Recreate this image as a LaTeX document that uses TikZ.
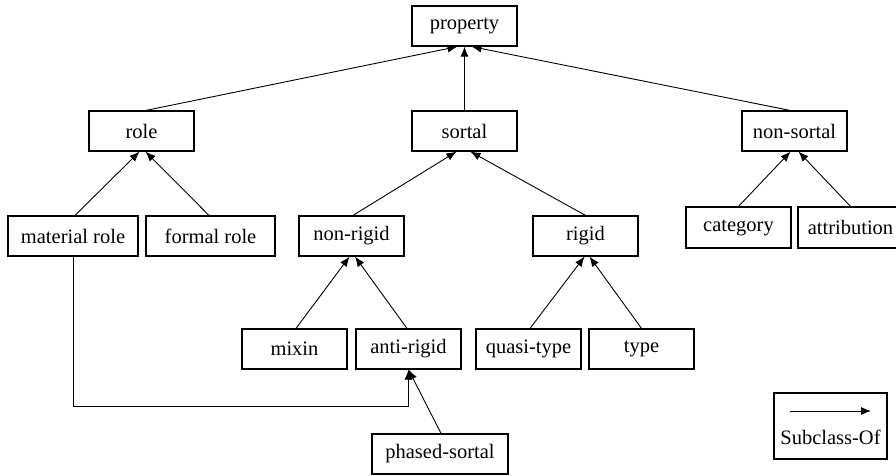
\documentclass[tikz,border=0pt]{standalone}
\usepackage{fontspec}
\setmainfont{Liberation Serif}
\usetikzlibrary{arrows.meta}
\begin{document}
\begin{tikzpicture}[x=1pt,y=-1pt,
  lbl/.style={font=\fontsize{20.5pt}{23pt}\selectfont},
  box/.style={draw, line width=1.2pt, inner sep=0pt, minimum width=105pt, minimum height=40pt, lbl},
  edge/.style={draw, line width=0.9pt, -{Latex[length=10pt,width=8pt]}}]
\useasboundingbox (0,0) rectangle (896,475);
\clip (0,0) rectangle (896,475);
% nodes
\node[box] (property) at (464.5,26) {property};
\node[box] (role) at (141.5,131) {role};
\node[box] (sortal) at (464.5,131) {sortal};
\node[box] (nonsortal) at (794.5,131) {non-sortal};
\node[box, minimum width=130pt] (matrole) at (73,236) {material role};
\node[box, minimum width=129pt] (formrole) at (210.5,236) {formal role};
\node[box] (nonrigid) at (351.5,236) {non-rigid};
\node[box] (rigid) at (585.5,236) {rigid};
\node[box, minimum height=41pt] (category) at (738.5,227.5) {category};
\node[box, minimum height=41pt] (attribution) at (850.5,227.5) {attribution};
\node[box] (mixin) at (294.5,349) {mixin};
\node[box] (antirigid) at (408.5,349) {anti-rigid};
\node[box] (quasitype) at (528.5,349) {quasi-type};
\node[box] (type) at (641.5,349) {type};
\node[box, minimum width=136pt] (phased) at (440,454) {phased-sortal};
% legend
\node[box, minimum width=113pt, minimum height=66pt] (legend) at (830.5,426) {};
\node[lbl, inner sep=0pt] (legtext) at (830.5,437) {Subclass-Of};
\coordinate (la) at (790,411);
\coordinate (lb) at (871,411);
\draw[edge] (la) -- (lb);
% edges
\draw[edge] ([xshift=4.5pt]role.north) -- ([xshift=-7pt]property.south);
\draw[edge] (sortal.north) -- (property.south);
\draw[edge] ([xshift=-4.5pt]nonsortal.north) -- ([xshift=7pt]property.south);
\draw[edge] ([xshift=2pt]matrole.north) -- ([xshift=-2pt]role.south);
\draw[edge] ([xshift=-1.5pt]formrole.north) -- ([xshift=4pt]role.south);
\draw[edge] ([xshift=1.5pt]nonrigid.north) -- ([xshift=-8pt]sortal.south);
\draw[edge] (rigid.north) -- ([xshift=6pt]sortal.south);
\draw[edge] (category.north) -- ([xshift=-4pt]nonsortal.south);
\draw[edge] (attribution.north) -- ([xshift=4pt]nonsortal.south);
\draw[edge] ([xshift=1.5pt]mixin.north) -- ([xshift=-2pt]nonrigid.south);
\draw[edge] ([xshift=-1.5pt]antirigid.north) -- ([xshift=3.5pt]nonrigid.south);
\draw[edge] ([xshift=1.5pt]quasitype.north) -- ([xshift=-1pt]rigid.south);
\draw[edge] (type.north) -- ([xshift=4pt]rigid.south);
\draw[edge] ([xshift=1pt]phased.north) -- (antirigid.south);
\draw[edge] (matrole.south) -- ++(0,150) -| (antirigid.south);
\end{tikzpicture}
\end{document}
